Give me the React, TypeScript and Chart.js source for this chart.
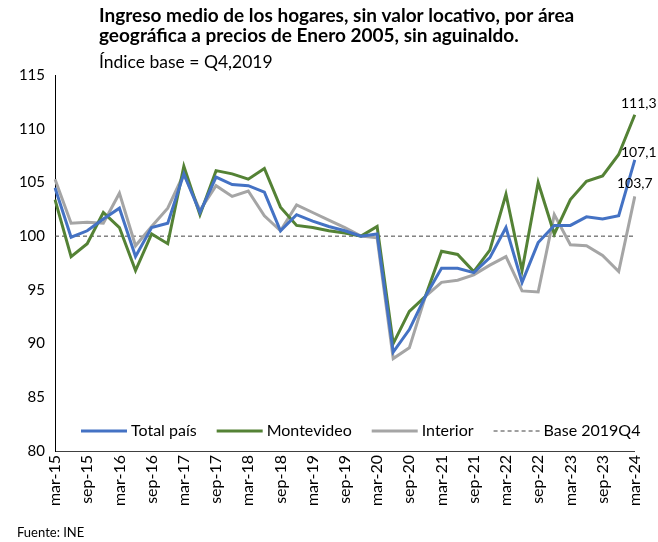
import React, { useEffect, useRef } from "react";
import { Chart, registerables } from "chart.js";

Chart.register(...registerables);

const categories = [
  "mar-15", "jun-15", "sep-15", "dic-15",
  "mar-16", "jun-16", "sep-16", "dic-16",
  "mar-17", "jun-17", "sep-17", "dic-17",
  "mar-18", "jun-18", "sep-18", "dic-18",
  "mar-19", "jun-19", "sep-19", "dic-19",
  "mar-20", "jun-20", "sep-20", "dic-20",
  "mar-21", "jun-21", "sep-21", "dic-21",
  "mar-22", "jun-22", "sep-22", "dic-22",
  "mar-23", "jun-23", "sep-23", "dic-23",
  "mar-24",
];

const totalPais = [
  104.5, 99.9, 100.5, 101.6, 102.6, 98.1, 100.8, 101.2, 105.8, 102.2, 105.5, 104.8,
  104.7, 104.1, 100.5, 102.0, 101.4, 100.9, 100.5, 100.0, 100.2, 89.2, 91.3, 94.4,
  97.0, 97.0, 96.6, 98.0, 100.8, 95.7, 99.4, 101.0, 101.0, 101.8, 101.6, 101.9, 107.1,
];

const montevideo = [
  103.4, 98.1, 99.3, 102.2, 100.8, 96.8, 100.2, 99.3, 106.5, 102.0, 106.1, 105.8,
  105.3, 106.3, 102.7, 101.0, 100.8, 100.5, 100.3, 100.0, 100.9, 90.0, 93.0, 94.4,
  98.6, 98.3, 96.7, 98.7, 103.9, 96.8, 105.0, 100.2, 103.4, 105.1, 105.6, 107.6, 111.3,
];

const interior = [
  105.3, 101.2, 101.3, 101.2, 104.0, 99.1, 100.9, 102.6, 105.8, 102.4, 104.7, 103.7,
  104.2, 101.9, 100.5, 102.9, 102.2, 101.5, 100.8, 100.0, 99.85, 88.6, 89.6, 94.4,
  95.7, 95.9, 96.4, 97.3, 98.1, 94.9, 94.8, 102.0, 99.2, 99.1, 98.2, 96.7, 103.7,
];

const baseValue = 100;

const seriesNames = ["Total país", "Montevideo", "Interior", "Base 2019Q4"];
const seriesColors = ["#4472C4", "#548235", "#A5A5A5", "#404040"];

const yTicks = { min: 80, max: 115, step: 5 };

const titleLines = [
  "Ingreso medio de los hogares, sin valor locativo, por área",
  "geográfica a precios de Enero 2005, sin aguinaldo.",
];
const subtitle = "Índice base = Q4,2019";
const source = "Fuente: INE";

const FONT = "Lato, 'Noto Sans', sans-serif";

// per-series offset of the end value labels (style only)
const endLabelOffsets = [
  { dx: 4, dy: -7 },
  { dx: 4, dy: -11 },
  { dx: 0, dy: -13 },
];

const decor = {
  id: "decor",
  afterDraw(chart: any) {
    const ctx = chart.ctx;
    ctx.save();
    // Titles
    ctx.fillStyle = "#000";
    ctx.textAlign = "left";
    ctx.textBaseline = "alphabetic";
    ctx.font = `bold 19px ${FONT}`;
    ctx.fillText(titleLines[0], 99, 22);
    ctx.fillText(titleLines[1], 99, 42);
    ctx.font = `17.5px ${FONT}`;
    ctx.fillText(subtitle, 99, 68);
    // Source
    ctx.font = `13px ${FONT}`;
    ctx.fillText(source, 17, 537);

    // End labels
    ctx.font = `14px ${FONT}`;
    ctx.textAlign = "center";
    ctx.textBaseline = "middle";
    for (let d = 0; d < 3; d++) {
      const meta = chart.getDatasetMeta(d);
      const data = chart.data.datasets[d].data;
      const last = data.length - 1;
      const pt = meta.data[last];
      const v = data[last] as number;
      const off = endLabelOffsets[d];
      ctx.fillText(v.toFixed(1).replace(".", ","), pt.x + off.dx, pt.y + off.dy);
    }

    // Legend (inside plot area)
    const ly = 431;
    let x = 81;
    ctx.font = `16px ${FONT}`;
    ctx.textAlign = "left";
    ctx.textBaseline = "middle";
    chart.data.datasets.forEach((ds: any) => {
      ctx.beginPath();
      ctx.strokeStyle = ds.borderColor;
      ctx.lineWidth = ds.borderWidth;
      ctx.setLineDash(ds.borderDash || []);
      ctx.lineCap = "butt";
      ctx.moveTo(x, ly);
      ctx.lineTo(x + 46, ly);
      ctx.stroke();
      ctx.setLineDash([]);
      x += 50;
      ctx.fillStyle = "#000";
      ctx.fillText(ds.label, x, ly);
      x += ctx.measureText(ds.label).width + 20;
    });
    ctx.restore();
  },
};

export default function App() {
  const ref = useRef<HTMLCanvasElement>(null);

  useEffect(() => {
    if (!ref.current) return;
    const chart = new Chart(ref.current, {
      type: "line",
      data: {
        labels: categories,
        datasets: [
          {
            label: seriesNames[0],
            data: totalPais,
            borderColor: seriesColors[0],
            backgroundColor: seriesColors[0],
            borderWidth: 3,
            pointRadius: 0,
            tension: 0,
          },
          {
            label: seriesNames[1],
            data: montevideo,
            borderColor: seriesColors[1],
            backgroundColor: seriesColors[1],
            borderWidth: 3,
            pointRadius: 0,
            tension: 0,
          },
          {
            label: seriesNames[2],
            data: interior,
            borderColor: seriesColors[2],
            backgroundColor: seriesColors[2],
            borderWidth: 3,
            pointRadius: 0,
            tension: 0,
          },
          {
            label: seriesNames[3],
            data: categories.map(() => baseValue),
            borderColor: seriesColors[3],
            backgroundColor: seriesColors[3],
            borderWidth: 1,
            borderDash: [4, 3],
            pointRadius: 0,
            tension: 0,
          },
        ],
      },
      options: {
        animation: false,
        responsive: false,
        maintainAspectRatio: false,
        layout: { padding: { top: 75, right: 21, left: 0, bottom: 0 } },
        plugins: {
          legend: { display: false },
          title: { display: false },
          tooltip: { enabled: false },
        },
        scales: {
          x: {
            type: "category",
            offset: false,
            grid: { display: false, drawTicks: false },
            border: { display: true, color: "#404040", width: 1 },
            ticks: {
              autoSkip: false,
              maxRotation: 90,
              minRotation: 90,
              padding: 4,
              color: "#000",
              font: { family: FONT, size: 16 },
              callback: (_v: any, i: number) => (i % 2 === 0 ? categories[i] : ""),
            },
            afterFit: (s: any) => {
              s.height = 91;
            },
          },
          y: {
            min: yTicks.min,
            max: yTicks.max,
            grid: { display: false, drawTicks: false },
            border: { display: true, color: "#000", width: 1 },
            ticks: {
              stepSize: yTicks.step,
              padding: 10,
              color: "#000",
              font: { family: FONT, size: 15 },
            },
            afterFit: (s: any) => {
              s.width = 55;
            },
          },
        },
      },
      plugins: [decor],
    });
    return () => chart.destroy();
  }, []);

  return (
    <div style={{ position: "fixed", left: 0, top: 0, width: 658, height: 542, background: "#fff" }}>
      <canvas ref={ref} width={658} height={542} style={{ width: 658, height: 542 }} />
    </div>
  );
}
